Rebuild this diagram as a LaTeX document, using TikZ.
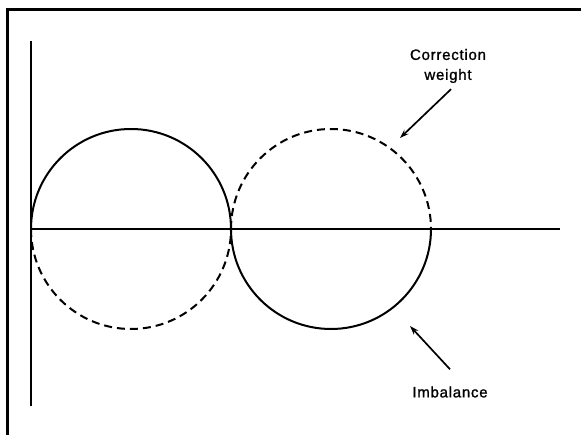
\documentclass[tikz,border=0pt]{standalone}
\usepackage{fontspec}
\setmainfont{Liberation Sans}
\newfontfamily\labelfont[LetterSpace=5, BoldFont=Liberation Sans, BoldFeatures={FakeBold=1.2}]{Liberation Sans}
\usetikzlibrary{arrows.meta, positioning, calc}
\tikzset{
  frame/.style={line width=3pt, black},
  axis/.style={line width=1.4pt, black},
  solidarc/.style={line width=2pt, black},
  dashedarc/.style={line width=2pt, black, dash pattern=on 8pt off 5pt},
  pointer/.style={-{Stealth[length=9pt, width=6pt]}, line width=1.7pt, black},
  label/.style={font=\labelfont\bfseries\fontsize{15}{20}\selectfont, align=center, inner sep=1pt},
}
\begin{document}
\begin{tikzpicture}[x=1pt, y=-1pt]
  \useasboundingbox (0,0) rectangle (581,435);

  % Frame (left and top edges)
  \draw[frame] (7,435) -- (7,9.5) -- (581,9.5);

  % Axes
  \coordinate (o) at (31,229);
  \draw[axis] (31,41) -- (31,406);
  \draw[axis] (o) -- (560,229);

  % Circle centres
  \coordinate (c1) at (131,229);
  \coordinate (c2) at (331,229);

  % Imbalance circle: top left, bottom right (y axis points down)
  \draw[solidarc] (o) arc[start angle=180, end angle=360, radius=100];
  \draw[solidarc] (231,229) arc[start angle=180, end angle=0, radius=100];

  % Correction weight circle: bottom left, top right
  \draw[dashedarc] (o) arc[start angle=180, end angle=0, radius=100];
  \draw[dashedarc] (231,229) arc[start angle=180, end angle=360, radius=100];

  % Labels
  \node[label] (cw) at (448,66) {Correction\\weight};
  \node[label] (imb) at (450,392) {Imbalance};

  % Pointers
  \coordinate (cwtip) at (400,138);
  \coordinate (imbtip) at (410,326);
  \draw[pointer] ($(cw.south)+(3,5)$) -- (cwtip);
  \draw[pointer] ($(imb.north)+(0,-16)$) -- (imbtip);
\end{tikzpicture}
\end{document}
